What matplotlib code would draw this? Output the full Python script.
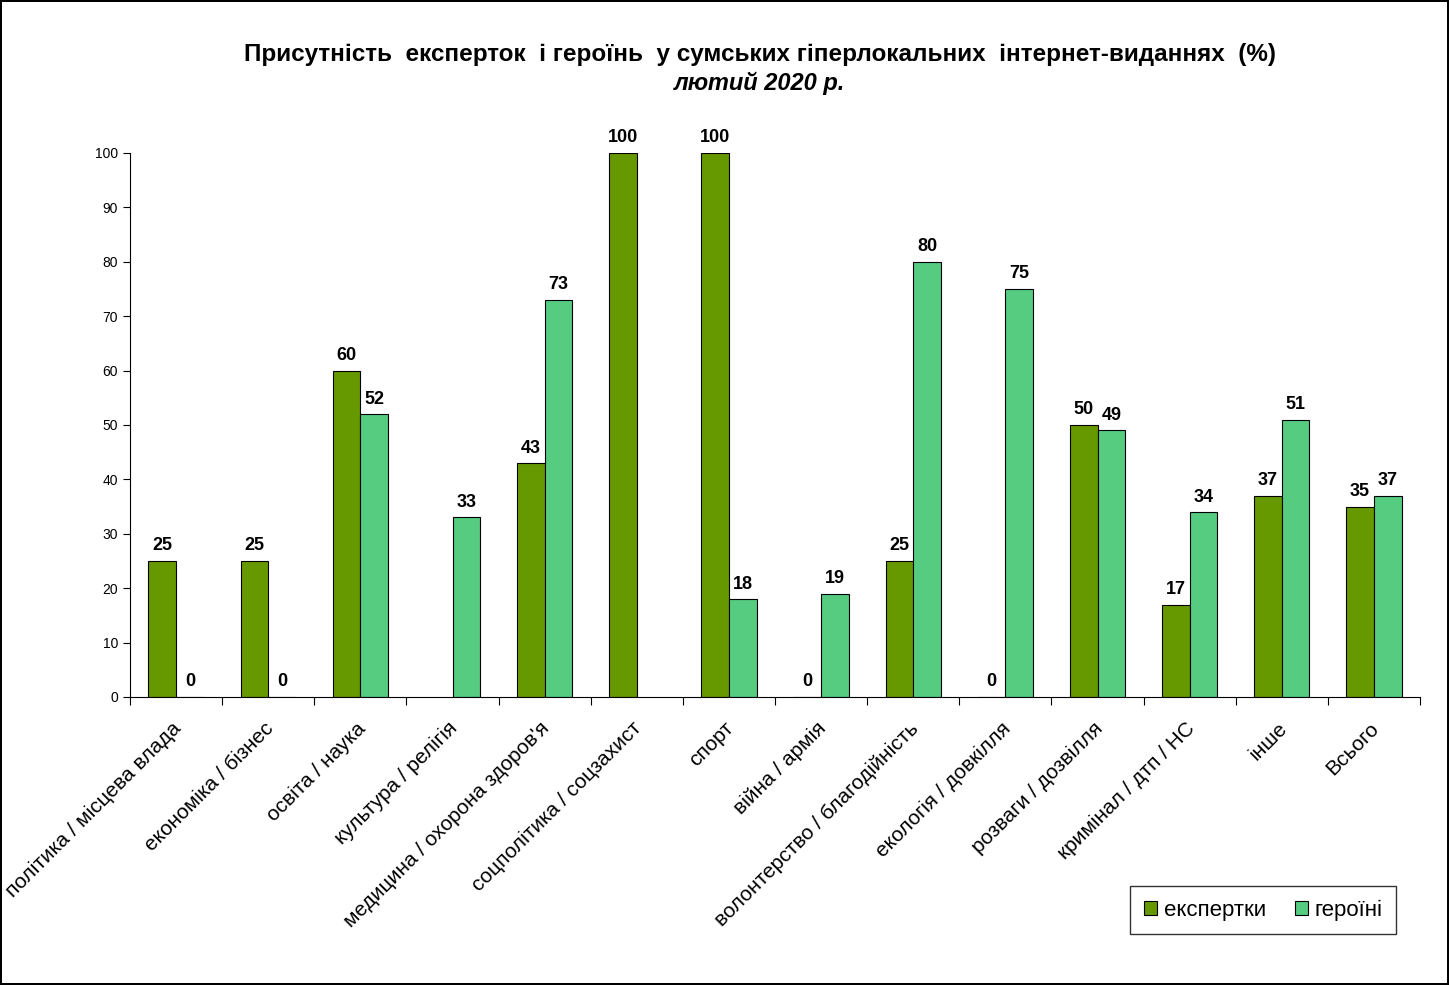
import matplotlib.pyplot as plt
import numpy as np

# дані з діаграми
kategorii = ["політика / місцева влада", "економіка / бізнес", "освіта / наука",
             "культура / релігія", "медицина / охорона здоров'я", "соцполітика / соцзахист",
             "спорт", "війна / армія", "волонтерство / благодійність", "екологія / довкілля",
             "розваги / дозвілля", "кримінал / дтп / НС", "інше", "Всього"]
ekspertky = [25, 25, 60, None, 43, 100, 100, 0, 25, 0, 50, 17, 37, 35]
heroini = [0, 0, 52, 33, 73, None, 18, 19, 80, 75, 49, 34, 51, 37]

kolir_eksp = "#669900"
kolir_her = "#55CC80"

plt.rcParams["font.family"] = ["Liberation Sans", "DejaVu Sans"]

fig = plt.figure(figsize=(14.49, 9.85), dpi=100)
fig.patch.set_edgecolor("black")
fig.patch.set_linewidth(1.5)
ax = fig.add_axes([130 / 1449, 288 / 985, 1290 / 1449, 544 / 985])

x = np.arange(len(kategorii))
w = 0.3
e_vals = np.array([np.nan if v is None else v for v in ekspertky], dtype=float)
h_vals = np.array([np.nan if v is None else v for v in heroini], dtype=float)

ax.bar(x - w / 2, e_vals, w, color=kolir_eksp, edgecolor="black", linewidth=0.8, label="експертки")
ax.bar(x + w / 2, h_vals, w, color=kolir_her, edgecolor="black", linewidth=0.8, label="героїні")

# підписи значень
for xi, v in zip(x - w / 2, e_vals):
    if not np.isnan(v):
        ax.text(xi, v + 1.2, f"{v:.0f}", ha="center", va="bottom", fontsize=13, fontweight="bold")
for xi, v in zip(x + w / 2, h_vals):
    if not np.isnan(v):
        ax.text(xi, v + 1.2, f"{v:.0f}", ha="center", va="bottom", fontsize=13, fontweight="bold")

ax.set_xlim(-0.5, len(kategorii) - 0.5)
ax.set_ylim(0, 100)
ax.set_yticks(range(0, 101, 10))
ax.tick_params(axis="y", labelsize=10, length=5, direction="out")
ax.set_xticks(np.arange(len(kategorii) + 1) - 0.5)
ax.set_xticklabels([])
ax.tick_params(axis="x", length=6, direction="out")
ax.spines["top"].set_visible(False)
ax.spines["right"].set_visible(False)

for xi, nazva in zip(x, kategorii):
    ax.text(xi - 0.05, -4, nazva, rotation=45, ha="right", va="top", rotation_mode="anchor",
            fontsize=15, transform=ax.transData)

leg = ax.legend(loc="lower right", bbox_to_anchor=(1396 / 1449, 51 / 985), bbox_transform=fig.transFigure,
                ncol=2, fontsize=16, frameon=True, fancybox=False, edgecolor="black",
                handlelength=0.6, handleheight=0.6, handletextpad=0.3, columnspacing=1.3,
                borderpad=0.6, borderaxespad=0)
leg.get_frame().set_linewidth(1.0)

fig.text(760 / 1449, 1 - 55 / 985, "Присутність  експерток  і героїнь  у сумських гіперлокальних  інтернет-виданнях  (%)",
         ha="center", va="center", fontsize=17.5, fontweight="bold")
fig.text(760 / 1449, 1 - 83 / 985, "лютий 2020 р.", ha="center", va="center", fontsize=17,
         fontweight="bold", fontstyle="italic")

fig.savefig("out.png", dpi=100)
